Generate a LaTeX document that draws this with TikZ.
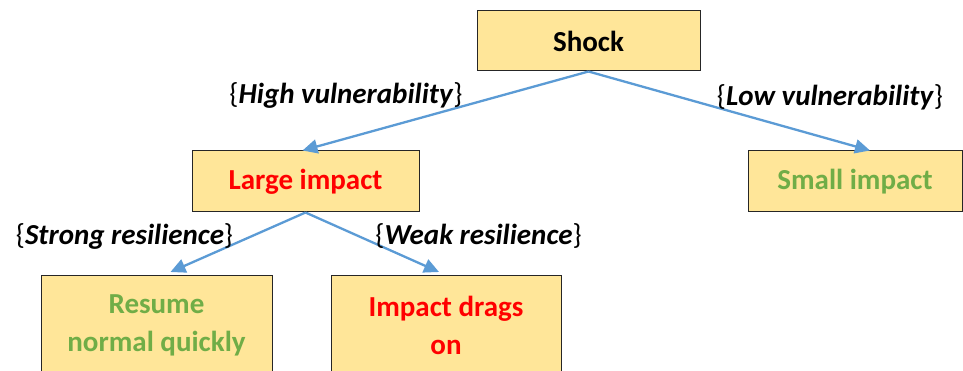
\documentclass[tikz,border=0pt]{standalone}
\usepackage{fontspec}
\setmainfont{Carlito}
\usetikzlibrary{arrows.meta}
\definecolor{boxfill}{HTML}{FFE699}
\definecolor{boxedge}{HTML}{262626}
\definecolor{arrowblue}{HTML}{5B9BD5}
\definecolor{goodgreen}{HTML}{70AD47}
\definecolor{badred}{HTML}{FF0000}
\tikzset{
  box/.style={draw=boxedge, line width=1pt, fill=boxfill, inner sep=0pt, align=center,
    font=\fontsize{29}{38}\selectfont\bfseries},
  conn/.style={draw=arrowblue, line width=2.3pt, -{Triangle[length=15pt,width=14pt]}},
  lbl/.style={inner sep=0pt, font=\fontsize{29}{32}\selectfont}
}
\newcommand{\lab}[1]{\{\textbf{\textit{#1}}\}}
\begin{document}
\begin{tikzpicture}[x=1pt,y=-1pt]
\useasboundingbox (0,0) rectangle (963,371);
\clip (0,0) rectangle (963,371);
\fill[white] (0,0) rectangle (963,371);
\node[box, minimum width=223pt, minimum height=60pt] (shock) at (588.5,41) {Shock};
\node[box, minimum width=227pt, minimum height=61pt, text=badred] (large) at (305.5,181.5) {Large impact};
\node[box, minimum width=214pt, minimum height=61pt, text=goodgreen] (small) at (855,181.5) {Small impact};
\node[box, minimum width=231pt, minimum height=120pt, anchor=north] (resume) at (156.5,275) {};
\node[box, minimum width=230pt, minimum height=120pt, anchor=north] (drags) at (446,275) {};
\node[box, draw=none, fill=none, text=goodgreen] (resumetxt) at (156.5,325) {Resume\\normal quickly};
\node[box, draw=none, fill=none, text=badred] (dragstxt) at (446,325) {Impact drags\\on};
\draw[conn] (shock.south) -- ([xshift=-3pt]large.north);
\draw[conn] (shock.south) -- ([xshift=15pt]small.north);
\draw[conn] (large.south) -- ([xshift=14pt,yshift=3pt]resume.north);
\draw[conn] (large.south) -- ([xshift=-7pt,yshift=3pt]drags.north);
\node[lbl] (lhigh) at (346,95) {\lab{High vulnerability}};
\node[lbl] (llow) at (830,97) {\lab{Low vulnerability}};
\node[lbl] (lstrong) at (124.5,236) {\lab{Strong resilience}};
\node[lbl] (lweak) at (478.5,236) {\lab{Weak resilience}};
\end{tikzpicture}
\end{document}
